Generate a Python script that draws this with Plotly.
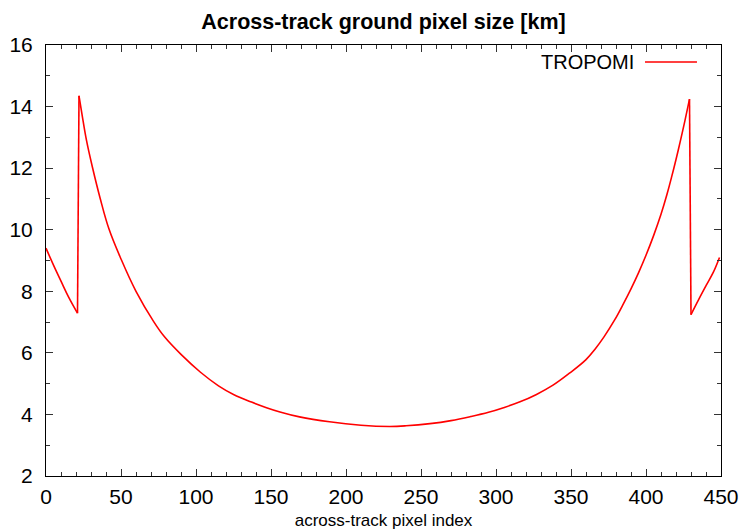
import plotly.graph_objects as go

# Across-track pixel index and ground pixel size [km]
# left edge segment
left_idx = [0, 5, 10, 15, 21]
left_size = [9.40, 8.85, 8.33, 7.82, 7.29]
# central segment
main_idx = [22, 24, 27, 31, 36, 42, 50, 60, 72, 79, 90, 103, 115, 125, 137,
            147, 156, 169, 189, 210, 229, 240, 256, 270, 283, 295, 305, 316, 327,
            338, 349, 360, 366, 372, 379, 385, 390, 395, 400, 405, 410, 414,
            417, 420, 423, 426, 429]
main_size = [14.35, 13.75, 12.90, 12.02, 11.04, 10.02, 9.05, 8.00, 7.00, 6.52, 5.95, 5.37, 4.93, 4.65, 4.40,
             4.22, 4.08, 3.92, 3.76, 3.65, 3.61, 3.63, 3.70, 3.80, 3.93, 4.07, 4.22, 4.41, 4.65,
             4.95, 5.34, 5.78, 6.12, 6.52, 7.06, 7.60, 8.08, 8.60, 9.17, 9.80, 10.50, 11.15,
             11.70, 12.28, 12.90, 13.55, 14.24]
# right edge segment
right_idx = [430, 435, 440, 445, 449]
right_size = [7.24, 7.72, 8.18, 8.63, 9.10]

series_name = "TROPOMI"
title_text = "Across-track ground pixel size [km]"
x_title = "across-track pixel index"
x_ticks = [0, 50, 100, 150, 200, 250, 300, 350, 400, 450]
y_ticks = [2, 4, 6, 8, 10, 12, 14, 16]

FONT = "Liberation Sans, Arial, Helvetica, sans-serif"
RED = "#ff0000"
LW = 1.6

fig = go.Figure()
for xs, ys in [(left_idx, left_size), (main_idx, main_size), (right_idx, right_size)]:
    fig.add_trace(go.Scatter(x=xs, y=ys, mode="lines", name=series_name, showlegend=False,
                             line=dict(color=RED, width=LW, shape="spline", smoothing=1.1)))
# vertical jumps between segments
for (xa, ya), (xb, yb) in [((left_idx[-1], left_size[-1]), (main_idx[0], main_size[0])),
                           ((main_idx[-1], main_size[-1]), (right_idx[0], right_size[0]))]:
    fig.add_trace(go.Scatter(x=[xa, xb], y=[ya, yb], mode="lines", showlegend=False,
                             line=dict(color=RED, width=LW)))

axis_common = dict(
    showgrid=False, zeroline=False, showline=True, linecolor="black", linewidth=1,
    mirror="ticks", ticks="inside", ticklen=7, tickcolor="#333333", tickwidth=1,
    tickfont=dict(family=FONT, size=21, color="black"), automargin=False,
)

fig.update_layout(
    width=742, height=532,
    margin=dict(l=46, r=21, t=45, b=56),
    paper_bgcolor="white", plot_bgcolor="white",
    font=dict(family=FONT, color="black"),
    title=dict(text="<b>" + title_text + "</b>", x=0.5, xref="paper", y=0.960, yref="container",
               xanchor="center", yanchor="middle", font=dict(family=FONT, size=21.5, color="black")),
    xaxis=dict(range=[0, 450], tickvals=x_ticks, ticktext=[str(v) for v in x_ticks],
               minor=dict(dtick=10, tick0=0, ticks="inside", ticklen=4, tickcolor="#333333"),
               title=dict(text=x_title, font=dict(family=FONT, size=17, color="black"), standoff=6),
               ticklabelstandoff=2, **axis_common),
    yaxis=dict(range=[2, 16], tickvals=y_ticks, ticktext=[str(v) for v in y_ticks],
               minor=dict(dtick=1, tick0=0, ticks="inside", ticklen=4, tickcolor="#333333"),
               ticklabelstandoff=8, **axis_common),
)

# gnuplot-style key: text on the left, line sample on the right
fig.add_annotation(text=series_name, xref="paper", yref="paper", x=0.874, y=0.9606,
                   xanchor="right", yanchor="middle", showarrow=False,
                   font=dict(family=FONT, size=20, color="black"))
fig.add_shape(type="line", xref="paper", yref="paper", x0=0.8874, x1=0.9644, y0=0.9606, y1=0.9606,
              line=dict(color=RED, width=LW))

fig.write_html("out.html", config={"displayModeBar": False},
               post_script="document.body.style.margin='0';document.body.style.overflow='hidden';")
